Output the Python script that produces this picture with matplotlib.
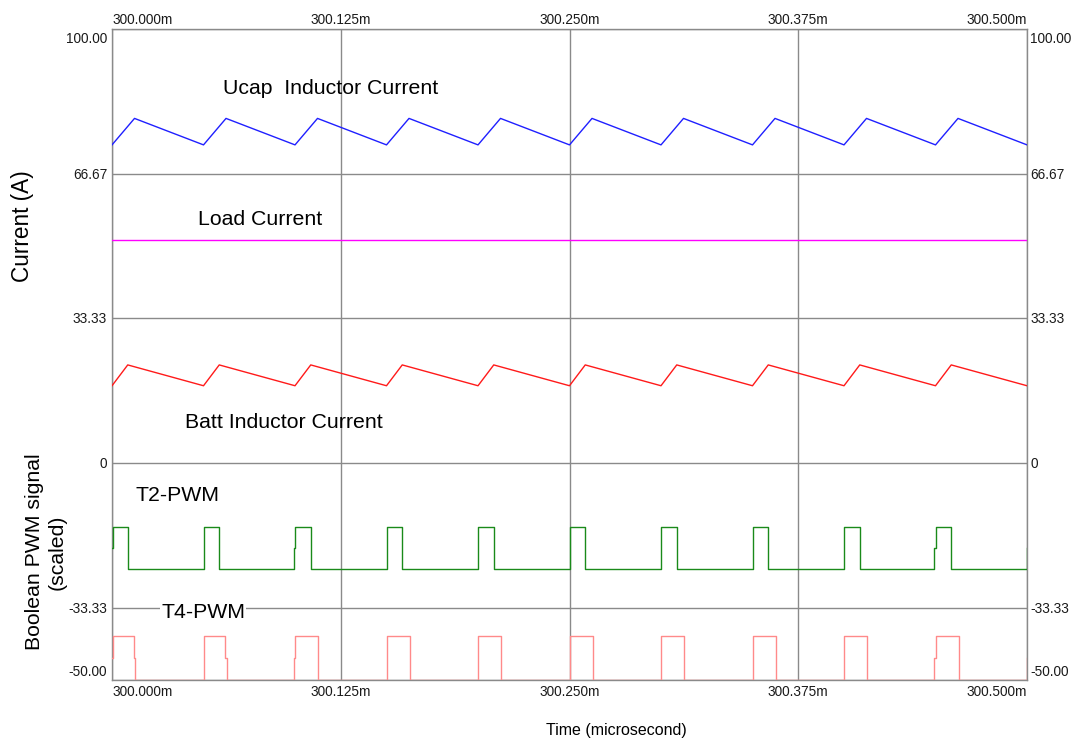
import matplotlib
matplotlib.use("Agg")
import matplotlib.pyplot as plt

plt.rcParams["font.family"] = ["Liberation Sans", "DejaVu Sans"]

# ---- waveform data (time in ms, currents in A, PWM scaled) ----
ucap_time = [300.0000, 300.0123, 300.0500, 300.0623, 300.1000, 300.1123, 300.1500, 300.1623,
             300.2000, 300.2123, 300.2500, 300.2623, 300.3000, 300.3123, 300.3500, 300.3623,
             300.4000, 300.4123, 300.4500, 300.4623, 300.5000]
ucap_current = [73.3, 79.4, 73.3, 79.4, 73.3, 79.4, 73.3, 79.4, 73.3, 79.4, 73.3, 79.4,
                73.3, 79.4, 73.3, 79.4, 73.3, 79.4, 73.3, 79.4, 73.3]

batt_time = [300.0000, 300.0086, 300.0500, 300.0586, 300.1000, 300.1086, 300.1500, 300.1586,
             300.2000, 300.2086, 300.2500, 300.2586, 300.3000, 300.3086, 300.3500, 300.3586,
             300.4000, 300.4086, 300.4500, 300.4586, 300.5000]
batt_current = [17.8, 22.6, 17.8, 22.6, 17.8, 22.6, 17.8, 22.6, 17.8, 22.6, 17.8, 22.6,
                17.8, 22.6, 17.8, 22.6, 17.8, 22.6, 17.8, 22.6, 17.8]

load_time = [300.0, 300.5]
load_current = [51.4, 51.4]

t2_time = [300.0000, 300.0008, 300.0087, 300.0500, 300.0587, 300.0992, 300.1000, 300.1087,
           300.1500, 300.1587, 300.2000, 300.2087, 300.2500, 300.2587, 300.3000, 300.3087,
           300.3500, 300.3587, 300.4000, 300.4087, 300.4492, 300.4500, 300.4587, 300.5000]
t2_pwm = [-19.7, -14.8, -24.5, -14.8, -24.5, -19.7, -14.8, -24.5, -14.8, -24.5, -14.8, -24.5,
          -14.8, -24.5, -14.8, -24.5, -14.8, -24.5, -14.8, -24.5, -19.7, -14.8, -24.5, -19.7]

t4_time = [300.0000, 300.0008, 300.0118, 300.0126, 300.0500, 300.0619, 300.0627, 300.0992,
           300.1000, 300.1126, 300.1500, 300.1626, 300.2000, 300.2126, 300.2500, 300.2626,
           300.3000, 300.3126, 300.3500, 300.3626, 300.4000, 300.4126, 300.4492, 300.4500,
           300.4626, 300.5000]
t4_pwm = [-45, -39.8, -45, -50, -39.8, -45, -50, -45, -39.8, -50, -39.8, -50, -39.8, -50,
          -39.8, -50, -39.8, -50, -39.8, -50, -39.8, -50, -45, -39.8, -50, -45]

x_ticks = [300.0, 300.125, 300.25, 300.375, 300.5]
x_tick_labels = ["300.000m", "300.125m", "300.250m", "300.375m", "300.500m"]
y_ticks = [100.0, 66.67, 33.33, 0.0, -33.33, -50.0]
y_tick_labels = ["100.00", "66.67", "33.33", "0", "-33.33", "-50.00"]

GRID = "#8a8a8a"
TICK_TXT = "#1a1a1a"

fig = plt.figure(figsize=(10.71, 7.40), dpi=100)
ax = fig.add_axes([0.10458, 0.08108, 0.85434, 0.87973])

ax.plot(ucap_time, ucap_current, color="#1f1fff", lw=1.0, zorder=3)
ax.plot(load_time, load_current, color="#ff00ff", lw=1.0, zorder=3)
ax.plot(batt_time, batt_current, color="#ff1a1a", lw=1.0, zorder=3)
ax.plot(t2_time, t2_pwm, color="#1a8a1a", lw=1.0, drawstyle="steps-post", zorder=3)
ax.plot(t4_time, t4_pwm, color="#ff8a8a", lw=1.0, drawstyle="steps-post", zorder=3)

ax.set_xlim(300.0, 300.5)
ax.set_ylim(-50, 100)
ax.set_xticks(x_ticks)
ax.set_yticks(y_ticks)
ax.tick_params(length=0, labelleft=False, labelbottom=False)
ax.grid(True, color=GRID, lw=1.0, zorder=1)
ax.set_axisbelow(True)
for sp in ax.spines.values():
    sp.set_color(GRID)
    sp.set_linewidth(1.0)

PT = 0.72  # points per pixel at 100 dpi
fs_tick = 9.8

# y tick labels on both sides
for val, lab in zip(y_ticks, y_tick_labels):
    dy = -1
    if val == 100.0:
        dy = -10
    elif val == -50.0:
        dy = 8
    ax.annotate(lab, xy=(0, val), xycoords=("axes fraction", "data"),
                xytext=(-5 * PT, dy * PT), textcoords="offset points",
                ha="right", va="center", fontsize=fs_tick, color=TICK_TXT)
    ax.annotate(lab, xy=(1, val), xycoords=("axes fraction", "data"),
                xytext=(3 * PT, dy * PT), textcoords="offset points",
                ha="left", va="center", fontsize=fs_tick, color=TICK_TXT)

# x tick labels on top and bottom
for i, (val, lab) in enumerate(zip(x_ticks, x_tick_labels)):
    ha = "center"
    if i == 0:
        ha = "left"
    elif i == len(x_ticks) - 1:
        ha = "right"
    ax.annotate(lab, xy=(val, 1), xycoords=("data", "axes fraction"),
                xytext=(0, 9 * PT), textcoords="offset points",
                ha=ha, va="center", fontsize=fs_tick, color=TICK_TXT)
    ax.annotate(lab, xy=(val, 0), xycoords=("data", "axes fraction"),
                xytext=(0, -12 * PT), textcoords="offset points",
                ha=ha, va="center", fontsize=fs_tick, color=TICK_TXT)

# trace annotations
fs_lab = 15.3
ax.text(300.0607, 86.2, "Ucap  Inductor Current", fontsize=fs_lab, ha="left", va="center")
ax.text(300.0470, 56.0, "Load Current", fontsize=fs_lab, ha="left", va="center")
ax.text(300.0399, 9.4, "Batt Inductor Current", fontsize=fs_lab, ha="left", va="center")
ax.text(300.0131, -7.4, "T2-PWM", fontsize=fs_lab, ha="left", va="center")
ax.text(300.0268, -34.4, "T4-PWM", fontsize=fs_lab, ha="left", va="center",
        bbox=dict(facecolor="white", edgecolor="none", pad=0.5), zorder=4)

# axis titles
fig.text(22 / 1071, 1 - 226 / 740, "Current (A)", rotation=90, fontsize=16.3,
         ha="center", va="center")
fig.text(46 / 1071, 1 - 552 / 740, "Boolean PWM signal\n(scaled)", rotation=90,
         fontsize=15.3, ha="center", va="center", multialignment="center",
         linespacing=1.2)
fig.text(616 / 1071, 1 - 731 / 740, "Time (microsecond)", fontsize=11.5,
         ha="center", va="center")

fig.savefig("out.png", dpi=100)
